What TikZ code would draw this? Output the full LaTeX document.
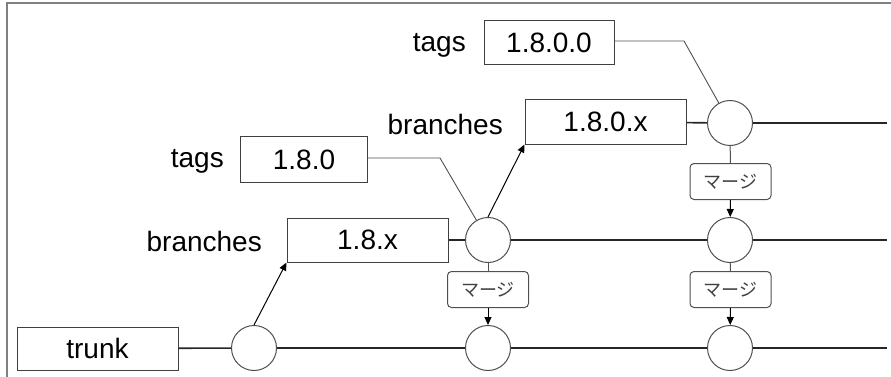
\documentclass[tikz,border=0pt]{standalone}
\usepackage{fontspec}
\setmainfont{Liberation Sans}
\newfontfamily\cjk{Noto Sans CJK JP}
\usetikzlibrary{arrows.meta}
\definecolor{edge}{HTML}{404040}
\definecolor{ring}{HTML}{505050}
\tikzset{
  verbox/.style={draw=edge, line width=1pt, fill=white, inner sep=0pt, font=\fontsize{28}{30}\selectfont},
  lbl/.style={anchor=east, inner sep=0pt, font=\fontsize{28}{30}\selectfont},
  commit/.style={circle, draw=ring, line width=1pt, fill=white, minimum size=45pt, inner sep=0pt},
  mergebox/.style={draw=ring, line width=1pt, rounded corners=4pt, fill=white, minimum width=81pt, minimum height=36pt, inner sep=0pt, font=\cjk\fontsize{18}{20}\selectfont, text=black!75},
  mainline/.style={draw=black!85, line width=1.6pt},
  tagline/.style={draw=ring, line width=0.9pt},
  arr/.style={draw=black, line width=1pt, -{Triangle[width=7pt,length=8pt]}}
}
\begin{document}
\begin{tikzpicture}[x=1pt,y=-1pt]
\useasboundingbox (0,0) rectangle (891,377);
\draw[gray, line width=1.6pt] (7,377) -- (7,3) -- (891,3);

% nodes
\node[verbox, minimum width=161pt, minimum height=43pt] (trunk) at (97.5,348.5) {trunk};
\node[commit] (c1) at (254,348) {};
\node[commit] (c2) at (488,348) {};
\node[commit] (c3) at (730,348) {};
\node[commit] (b1) at (488,240) {};
\node[commit] (b2) at (730,240) {};
\node[commit] (t1) at (730,123) {};

\node[verbox, minimum width=161pt, minimum height=44pt] (v18x) at (367.5,240) {1.8.x};
\node[lbl] (lb1) at (262,241) {branches};
\node[verbox, minimum width=127pt, minimum height=45pt] (v180) at (304,159.5) {1.8.0};
\node[lbl] (lt1) at (224,161) {tags};
\node[verbox, minimum width=161pt, minimum height=44pt] (v180x) at (605.5,122) {1.8.0.x};
\node[lbl] (lb2) at (503,124) {branches};
\node[verbox, minimum width=130pt, minimum height=44pt] (v1800) at (549,43) {1.8.0.0};
\node[lbl] (lt2) at (466,45) {tags};

\node[mergebox] (m1) at (488,289.5) {マージ};
\node[mergebox] (m2) at (730.5,181.5) {マージ};
\node[mergebox] (m3) at (730.5,289.5) {マージ};

\coordinate (e1) at (887,348);
\coordinate (e2) at (887,240);
\coordinate (e3) at (887,123);
\coordinate (k1) at (440,158);
\coordinate (k2) at (684,41);

% main lines
\draw[mainline] (trunk) -- (c1);
\draw[mainline] (c1) -- (c2);
\draw[mainline] (c2) -- (c3);
\draw[mainline] (c3) -- (e1);
\draw[mainline] (v18x) -- (b1);
\draw[mainline] (b1) -- (b2);
\draw[mainline] (b2) -- (e2);
\draw[mainline] (v180x) -- (t1);
\draw[mainline] (t1) -- (e3);

% branch arrows
\draw[arr] (c1.north) -- (v18x.south west);
\draw[arr] (b1.north) -- (v180x.south west);

% tag connectors
\draw[tagline] (v180.east |- k1) -- (k1) -- (b1);
\draw[tagline] (v1800.east |- k2) -- (k2) -- (t1);

% merges
\draw[line width=1pt, draw=ring] (b1) -- (m1);
\draw[arr] (m1) -- (c2);
\draw[line width=1pt, draw=ring] (t1) -- (m2);
\draw[arr] (m2) -- (b2);
\draw[line width=1pt, draw=ring] (b2) -- (m3);
\draw[arr] (m3) -- (c3);
\end{tikzpicture}
\end{document}
